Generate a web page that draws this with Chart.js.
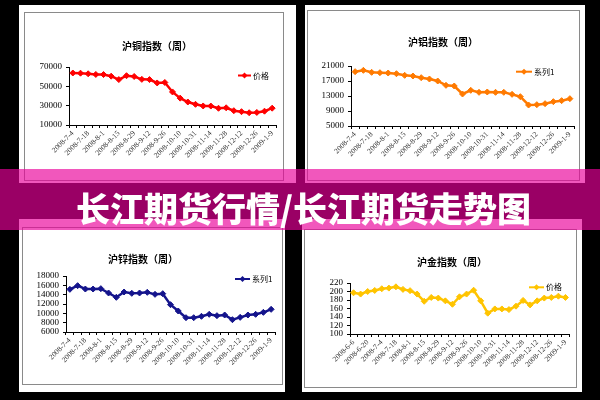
<!DOCTYPE html>
<html>
<head>
<meta charset="utf-8">
<script src="https://cdn.jsdelivr.net/npm/chart.js@4"></script>
<style>
    html, body { margin: 0; padding: 0; background: #000; }
    body { width: 600px; height: 400px; position: relative; overflow: hidden; }
    .panel { position: absolute; background: #fff; }
    .box { position: absolute; }
    .frame { position: absolute; border: 1px solid #8a8a8a; box-sizing: border-box; }
    .banner { position: absolute; left: 0; top: 169px; width: 600px; height: 61px; background: rgba(234, 0, 153, 0.66); }
    .banner span { position: absolute; left: 76px; top: 14px; line-height: 34px; color: #fff;
        font: 900 34px "Noto Sans CJK SC"; white-space: nowrap; }
</style>
</head>
<body>
<div class="panel" style="left:19px;top:5px;width:277px;height:178px"></div>
<div class="panel" style="left:305px;top:5px;width:280px;height:178px"></div>
<div class="panel" style="left:19px;top:219px;width:266px;height:173px"></div>
<div class="panel" style="left:302px;top:219px;width:280px;height:173px"></div>

<div class="box" style="left:24px;top:12px;width:260px;height:169px"><canvas id="copperChart"></canvas></div>
<div class="box" style="left:307px;top:10px;width:273px;height:171px"><canvas id="aluminumChart"></canvas></div>
<div class="box" style="left:22px;top:227px;width:261px;height:158px"><canvas id="zincChart"></canvas></div>
<div class="box" style="left:304px;top:229px;width:273px;height:159px"><canvas id="goldChart"></canvas></div>

<div class="frame" style="left:24px;top:12px;width:260px;height:169px"></div>
<div class="frame" style="left:307px;top:10px;width:273px;height:171px"></div>
<div class="frame" style="left:22px;top:227px;width:261px;height:158px"></div>
<div class="frame" style="left:304px;top:229px;width:273px;height:159px"></div>

<div class="banner"><span>长江期货行情/长江期货走势图</span></div>

<script>
// weekly dates (only every other one is labelled on the axis)
const weekLabels = ["2008-7-4", "2008-7-11", "2008-7-18", "2008-7-25", "2008-8-1", "2008-8-8",
    "2008-8-15", "2008-8-22", "2008-8-29", "2008-9-5", "2008-9-12", "2008-9-19", "2008-9-26",
    "2008-10-3", "2008-10-10", "2008-10-24", "2008-10-31", "2008-11-7", "2008-11-14", "2008-11-21",
    "2008-11-28", "2008-12-5", "2008-12-12", "2008-12-19", "2008-12-26", "2009-1-2", "2009-1-9"];
const goldLabels = ["2008-6-6", "2008-6-13", "2008-6-20", "2008-6-27"].concat(weekLabels);

const copperPrices = [63800, 63600, 63000, 62300, 62200, 60500, 57000, 61000, 60200, 57200, 57000,
    53500, 54000, 44200, 37800, 33800, 31400, 29700, 29600, 27300, 27800, 24800, 23800, 22700,
    23000, 24300, 27400];
const aluminumPrices = [19490, 19850, 19310, 19220, 19130, 18950, 18510, 18330, 17890, 17530, 17000,
    15850, 15670, 13530, 14510, 13980, 14070, 13980, 13980, 13440, 12820, 10600, 10690, 10960,
    11490, 11760, 12290];
const zincPrices = [15140, 15930, 15210, 15210, 15290, 14360, 13430, 14570, 14290, 14360, 14500,
    14070, 14210, 11860, 10500, 9070, 9070, 9360, 9790, 9500, 9640, 8640, 9140, 9640, 9790,
    10210, 10860];
const goldPrices = [197, 194, 200, 202.5, 206.5, 208, 211, 205, 202, 194, 177, 186, 184.5, 178,
    170, 187.5, 194, 203, 178, 149, 159, 159, 157.5, 165.5, 179, 168.5, 178, 184.5, 186, 189, 186];

const copperTicks = [10000, 30000, 50000, 70000];
const aluminumTicks = [5000, 9000, 13000, 17000, 21000];
const zincTicks = [6000, 8000, 10000, 12000, 14000, 16000, 18000];
const goldTicks = [100, 120, 140, 160, 180, 200, 220];

// title + legend drawn at fixed spots, like the Excel originals
Chart.register({
    id: "decor",
    afterDraw(chart, args, opts) {
        const ctx = chart.ctx;
        const ds = chart.data.datasets[0];
        const y = opts.legendY;
        ctx.save();
        ctx.fillStyle = "#000";
        ctx.font = "bold 10px 'Noto Sans CJK SC'";
        ctx.textAlign = "center";
        ctx.textBaseline = "middle";
        ctx.fillText(opts.title, opts.titleX, opts.titleY);

        ctx.strokeStyle = ds.borderColor;
        ctx.lineWidth = 2;
        ctx.beginPath();
        ctx.moveTo(opts.legendX1, y);
        ctx.lineTo(opts.legendX2, y);
        ctx.stroke();
        const mx = (opts.legendX1 + opts.legendX2) / 2;
        ctx.fillStyle = ds.borderColor;
        ctx.beginPath();
        ctx.moveTo(mx, y - 3);
        ctx.lineTo(mx + 3, y);
        ctx.lineTo(mx, y + 3);
        ctx.lineTo(mx - 3, y);
        ctx.closePath();
        ctx.fill();

        ctx.fillStyle = "#000";
        ctx.font = "8px 'Noto Sans CJK SC'";
        ctx.textAlign = "left";
        ctx.fillText(ds.label, opts.legendX2 + 2, y);
        ctx.restore();
    },
});

function makeChart(id, s) {
    const ctx = document.getElementById(id).getContext("2d");
    const tickFont = { family: "'Liberation Serif'", size: 9 };
    return new Chart(ctx, {
        type: "line",
        data: {
            labels: s.labels,
            datasets: [{
                label: s.label,
                data: s.data,
                borderColor: s.color,
                backgroundColor: s.color,
                borderWidth: 2.5,
                pointStyle: "rectRot",
                pointRadius: 3,
                pointBorderWidth: 1,
                tension: 0,
            }],
        },
        options: {
            responsive: true,
            maintainAspectRatio: false,
            animation: false,
            layout: { padding: { left: 0, right: s.padRight, top: s.padTop, bottom: 0 } },
            plugins: {
                legend: { display: false },
                tooltip: { enabled: false },
                decor: s.decor,
            },
            scales: {
                x: {
                    offset: true,
                    afterFit: (scale) => { scale.height = s.xHeight; },
                    border: { color: "#000", width: 1 },
                    grid: { display: true, offset: true, drawOnChartArea: false, tickLength: 3, color: "#000" },
                    ticks: {
                        autoSkip: false,
                        minRotation: 45,
                        maxRotation: 45,
                        padding: 1,
                        color: "#333",
                        font: { family: "'Liberation Serif'", size: 7.5 },
                        callback: (value, index) => (index % 2 === 0 ? s.labels[index] : ""),
                    },
                },
                y: {
                    min: s.ticks[0],
                    max: s.ticks[s.ticks.length - 1],
                    afterFit: (scale) => { scale.width = s.yWidth; },
                    afterBuildTicks: (scale) => { scale.ticks = s.ticks.map((v) => ({ value: v })); },
                    border: { color: "#000", width: 1 },
                    grid: { drawOnChartArea: false, tickLength: 3, color: "#000" },
                    ticks: {
                        autoSkip: false,
                        padding: 4,
                        color: "#000",
                        font: tickFont,
                        callback: (value) => String(value),
                    },
                },
            },
        },
    });
}

makeChart("copperChart", {
    labels: weekLabels, data: copperPrices, ticks: copperTicks, label: "价格", color: "#ff0000",
    yWidth: 45, padRight: 8, padTop: 55, xHeight: 56,
    decor: { title: "沪铜指数（周）", titleX: 133, titleY: 34, legendX1: 214, legendX2: 227, legendY: 63.5 },
});
makeChart("aluminumChart", {
    labels: weekLabels, data: aluminumPrices, ticks: aluminumTicks, label: "系列1", color: "#ff7a00",
    yWidth: 44, padRight: 6, padTop: 56, xHeight: 55,
    decor: { title: "沪铝指数（周）", titleX: 136, titleY: 32, legendX1: 209, legendX2: 225, legendY: 61.7 },
});
makeChart("zincChart", {
    labels: weekLabels, data: zincPrices, ticks: zincTicks, label: "系列1", color: "#14148c",
    yWidth: 44, padRight: 8, padTop: 49, xHeight: 53,
    decor: { title: "沪锌指数（周）", titleX: 121, titleY: 32, legendX1: 213, legendX2: 228, legendY: 52 },
});
makeChart("goldChart", {
    labels: goldLabels, data: goldPrices, ticks: goldTicks, label: "价格", color: "#ffc400",
    yWidth: 46, padRight: 8, padTop: 54, xHeight: 54,
    decor: { title: "沪金指数（周）", titleX: 148, titleY: 33, legendX1: 225, legendX2: 240, legendY: 58.3 },
});
</script>
</body>
</html>
